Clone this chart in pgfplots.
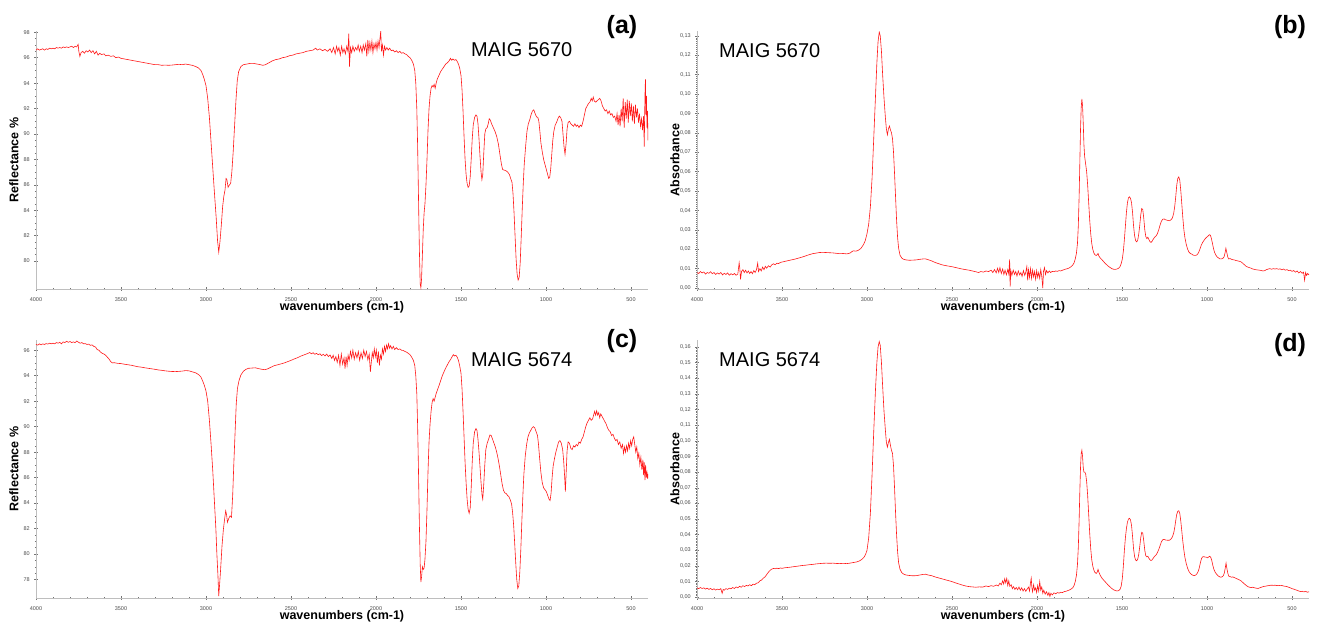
\documentclass[border=0pt]{standalone}
\usepackage{fontspec}
\setmainfont{Liberation Sans}
\usepackage{pgfplots}
\pgfplotsset{compat=1.18}

\definecolor{spec}{RGB}{255,25,25}
\definecolor{axgray}{RGB}{190,190,190}

% 1pt in the picture = 1px of the 1319x625 reference
\pgfplotsset{
  ir/.style={
    scale only axis, width=612pt, height=258pt, anchor=center,
    x dir=reverse, xmin=400, xmax=4000,
    xtick={500,1000,...,4000}, minor x tick num=4,
    axis x line*=bottom, axis y line*=left,
    axis line style={-, draw=axgray, line width=0.8pt},
    tick style={draw=black!55, line width=0.5pt},
    major tick length=3.5pt, minor tick length=2pt, tick align=center,
    tick label style={font=\fontsize{5.5}{6}\selectfont, text=black!70},
    xticklabel style={yshift=-3pt, /pgf/number format/set thousands separator={}},
    yticklabel style={xshift=-1pt},
    /pgf/number format/assume math mode=true,
    label style={font=\bfseries\fontsize{12.5}{14}\selectfont},
    xlabel={wavenumbers (cm-1)},
    xlabel style={at={(axis description cs:0.5,-0.07)}, anchor=center},
    ylabel style={at={(axis description cs:-0.036,0.5)}, anchor=center},
    every axis plot post/.append style={draw=spec, line width=0.6pt, mark=none},
  },
  refl/.style={ir, ylabel={Reflectance \%}, minor y tick num=3},
  absb/.style={ir, ylabel={Absorbance}, minor y tick num=9,
    yticklabel style={/pgf/number format/.cd, fixed, fixed zerofill, precision=2, use comma}},
}

\begin{document}
\begin{tikzpicture}
\path[use as bounding box] (0,0) rectangle (1319pt,-625pt);

% (a) reflectance MAIG 5670
\begin{axis}[refl, at={(342pt,-160pt)}, ymin=77.8, ymax=98.1, ytick={80,82,...,98}]
\addplot coordinates {
(4000,96.6) (3990,96.7) (3980,96.6) (3970,96.65) (3960,96.7) (3950,96.6) (3940,96.7) (3930,96.65) (3920,96.75) (3910,96.7)
(3900,96.75) (3890,96.7) (3880,96.8) (3870,96.75) (3860,96.8) (3850,96.75) (3840,96.85) (3830,96.8) (3820,96.85) (3810,96.8)
(3800,96.85) (3790,96.9) (3780,96.8) (3770,96.9) (3760,96.85) (3752,97.05) (3748,96.5) (3742,96.1) (3735,96.4) (3725,96.5)
(3715,96.35) (3705,96.55) (3695,96.45) (3685,96.6) (3675,96.4) (3665,96.55) (3655,96.3) (3645,96.5) (3635,96.2) (3625,96.35)
(3615,96.25) (3600,96.3) (3590,96.15) (3575,96.2) (3560,96.1) (3545,96.15) (3530,96.0) (3515,96.05) (3500,95.95) (3480,95.9)
(3460,95.85) (3440,95.8) (3420,95.75) (3400,95.7) (3380,95.65) (3360,95.6) (3340,95.55) (3320,95.5) (3300,95.45) (3280,95.45)
(3260,95.4) (3240,95.42) (3220,95.4) (3200,95.42) (3180,95.45) (3160,95.48) (3140,95.45) (3120,95.5) (3100,95.45) (3080,95.4)
(3060,95.3) (3045,95.2) (3030,95.0) (3020,94.7) (3010,94.3) (3000,93.8) (2990,92.8) (2980,91.3) (2970,89.3) (2960,87.3)
(2950,85.3) (2940,83.4) (2932,81.6) (2925,80.7) (2918,81.5) (2910,82.8) (2902,84.3) (2895,85.1) (2888,85.6) (2882,86.5)
(2877,86.4) (2870,85.8) (2862,86.0) (2855,86.1) (2848,87.0) (2840,88.6) (2832,90.6) (2824,92.6) (2816,94.2) (2808,94.9)
(2795,95.3) (2780,95.45) (2760,95.5) (2740,95.55) (2720,95.55) (2700,95.5) (2680,95.45) (2665,95.4) (2650,95.45) (2630,95.6)
(2610,95.75) (2590,95.85) (2570,95.9) (2550,96.0) (2530,96.05) (2510,96.15) (2490,96.2) (2470,96.3) (2450,96.35) (2430,96.4)
(2410,96.5) (2390,96.55) (2370,96.6) (2355,96.75) (2345,96.6) (2330,96.7) (2315,96.55) (2300,96.65) (2285,96.5) (2270,96.7)
(2260,96.4) (2250,96.8) (2240,96.3) (2232,96.9) (2225,96.5) (2218,96.8) (2210,96.2) (2202,96.9) (2195,96.4) (2188,96.7)
(2180,96.3) (2172,96.9) (2165,96.5) (2160,97.9) (2156,95.3) (2150,96.8) (2143,96.4) (2136,96.9) (2128,96.5) (2120,96.8)
(2112,96.6) (2105,97.0) (2098,96.5) (2090,96.9) (2082,96.4) (2075,97.0) (2068,96.6) (2060,97.1) (2054,96.1) (2048,97.4)
(2042,96.5) (2036,97.2) (2030,96.6) (2024,97.3) (2018,96.4) (2012,97.1) (2006,96.7) (2000,97.2) (1994,96.6) (1988,97.3)
(1982,96.8) (1976,97.6) (1972,98.1) (1968,96.5) (1962,97.0) (1956,96.2) (1950,96.9) (1944,96.6) (1936,96.8) (1928,96.6)
(1920,96.75) (1910,96.55) (1900,96.6) (1890,96.45) (1880,96.55) (1870,96.4) (1860,96.5) (1850,96.35) (1840,96.4) (1830,96.3)
(1820,96.25) (1810,96.1) (1800,96.0) (1790,95.8) (1780,95.5) (1772,95.0) (1766,94.0) (1760,92.0) (1755,89.0) (1750,85.0)
(1745,81.0) (1740,78.2) (1736,77.9) (1732,78.6) (1727,80.5) (1722,82.5) (1717,83.8) (1712,84.5) (1706,86.0) (1700,88.0)
(1694,90.3) (1688,92.0) (1682,93.0) (1676,93.6) (1670,93.8) (1664,93.7) (1658,93.9) (1652,93.6) (1646,94.0) (1640,94.3)
(1630,94.6) (1620,94.9) (1610,95.1) (1600,95.3) (1590,95.5) (1580,95.6) (1570,95.75) (1562,95.95) (1555,95.8) (1548,95.9)
(1540,95.8) (1530,95.85) (1522,95.7) (1515,95.5) (1508,95.2) (1500,94.6) (1494,93.5) (1488,91.8) (1482,89.8) (1476,88.0)
(1470,86.8) (1464,86.1) (1458,85.8) (1452,85.9) (1446,86.6) (1440,88.0) (1434,89.6) (1428,90.7) (1420,91.3) (1412,91.5)
(1406,91.4) (1400,90.8) (1394,89.6) (1388,88.2) (1382,87.0) (1377,86.4) (1372,86.8) (1366,88.5) (1360,90.0) (1354,90.4)
(1346,90.5) (1340,90.8) (1334,91.2) (1328,91.1) (1320,90.8) (1310,90.5) (1300,90.2) (1290,89.8) (1280,89.2) (1270,88.3)
(1262,87.6) (1255,87.2) (1245,87.15) (1235,87.1) (1225,87.0) (1215,86.8) (1208,86.5) (1200,86.2) (1194,85.3) (1188,83.8)
(1182,82.0) (1176,80.2) (1170,79.0) (1164,78.5) (1158,78.7) (1152,79.8) (1146,81.8) (1140,84.0) (1134,86.0) (1128,87.6)
(1120,89.0) (1112,90.2) (1104,90.8) (1096,91.1) (1088,91.5) (1080,91.8) (1072,91.9) (1064,91.6) (1056,91.35) (1048,91.3)
(1042,91.0) (1036,90.2) (1030,89.3) (1022,88.6) (1014,88.0) (1006,87.6) (998,87.2) (990,86.8) (984,86.5) (978,86.6)
(972,87.3) (966,88.4) (960,89.5) (954,90.2) (946,90.7) (938,90.9) (930,91.2) (922,91.4) (914,91.3) (906,91.0)
(900,90.0) (894,89.0) (888,88.4) (882,89.2) (876,90.4) (870,90.9) (862,91.0) (854,90.8) (846,90.7) (838,90.6)
(830,90.8) (822,90.6) (814,90.7) (806,90.5) (798,90.7) (790,90.6) (782,91.0) (774,91.5) (766,92.0) (758,92.2)
(750,92.4) (742,92.5) (734,92.8) (728,92.6) (722,92.9) (716,92.6) (708,92.5) (700,92.6) (692,92.7) (684,92.8)
(676,92.6) (668,92.2) (660,92.0) (652,91.8) (644,91.9) (636,91.6) (628,91.8) (620,91.5) (612,91.6) (604,91.3)
(596,91.4) (588,91.0) (582,91.6) (576,90.7) (570,91.5) (564,90.6) (558,92.0) (552,91.0) (546,92.8) (540,90.5)
(534,92.5) (528,91.2) (522,92.7) (516,90.9) (510,92.6) (504,91.4) (498,92.4) (492,91.0) (486,92.2) (480,90.8)
(474,92.3) (468,91.3) (462,92.0) (456,90.9) (450,91.6) (444,90.6) (438,91.2) (432,90.3) (426,91.4) (422,89.0)
(418,93.0) (415,94.3) (412,91.5) (409,93.0) (406,90.5) (403,91.8) (400,89.5)
};
\end{axis}

% (b) absorbance MAIG 5670
\begin{axis}[absb, at={(1003pt,-160pt)}, ymin=-0.0005, ymax=0.1325,
  ytick={0,0.01,0.02,0.03,0.04,0.05,0.06,0.07,0.08,0.09,0.10,0.11,0.12,0.13}]
\addplot coordinates {
(4000,0.0080) (3990,0.0075) (3980,0.0085) (3970,0.0078) (3960,0.0083) (3950,0.0072) (3940,0.0080) (3930,0.0076) (3920,0.0084) (3910,0.0074)
(3900,0.0080) (3890,0.0070) (3880,0.0078) (3870,0.0072) (3860,0.0080) (3850,0.0068) (3840,0.0076) (3830,0.0070) (3820,0.0078) (3810,0.0066)
(3800,0.0074) (3790,0.0068) (3780,0.0075) (3770,0.0066) (3760,0.0072) (3752,0.0130) (3748,0.0100) (3744,0.0045) (3738,0.0085) (3730,0.0095)
(3722,0.0080) (3714,0.0092) (3706,0.0078) (3698,0.0088) (3690,0.0075) (3682,0.0085) (3674,0.0074) (3666,0.0090) (3658,0.0080) (3650,0.0095)
(3643,0.0128) (3638,0.0085) (3630,0.0100) (3622,0.0088) (3614,0.0108) (3606,0.0095) (3598,0.0112) (3590,0.0102) (3580,0.0115) (3570,0.0108)
(3560,0.0120) (3550,0.0125) (3540,0.0120) (3530,0.0128) (3520,0.0126) (3510,0.0132) (3500,0.0134) (3480,0.0138) (3460,0.0142) (3440,0.0146)
(3420,0.0150) (3400,0.0155) (3380,0.0160) (3360,0.0166) (3340,0.0172) (3320,0.0177) (3300,0.0180) (3280,0.0183) (3260,0.0184) (3240,0.0183)
(3220,0.0182) (3200,0.0181) (3180,0.0179) (3160,0.0177) (3140,0.0178) (3120,0.0176) (3100,0.0180) (3090,0.0187) (3080,0.0192) (3065,0.0190)
(3050,0.0195) (3035,0.0205) (3020,0.0225) (3010,0.0245) (3000,0.0280) (2990,0.0330) (2980,0.0420) (2970,0.0570) (2960,0.0780) (2950,0.0990)
(2942,0.1160) (2935,0.1270) (2928,0.1320) (2922,0.1300) (2915,0.1220) (2908,0.1100) (2900,0.0980) (2892,0.0880) (2886,0.0820) (2880,0.0790)
(2874,0.0820) (2868,0.0835) (2862,0.0815) (2856,0.0800) (2850,0.0770) (2844,0.0700) (2838,0.0590) (2832,0.0470) (2826,0.0350) (2820,0.0260)
(2814,0.0205) (2806,0.0170) (2796,0.0155) (2785,0.0148) (2770,0.0145) (2750,0.0143) (2730,0.0144) (2710,0.0145) (2690,0.0148) (2670,0.0150)
(2655,0.0150) (2640,0.0146) (2620,0.0140) (2600,0.0132) (2580,0.0126) (2560,0.0120) (2540,0.0116) (2520,0.0113) (2500,0.0110) (2480,0.0106)
(2460,0.0102) (2440,0.0098) (2420,0.0095) (2400,0.0092) (2380,0.0088) (2360,0.0084) (2345,0.0080) (2330,0.0085) (2315,0.0082) (2300,0.0088)
(2285,0.0085) (2270,0.0092) (2260,0.0080) (2250,0.0095) (2240,0.0078) (2232,0.0102) (2225,0.0080) (2218,0.0105) (2210,0.0075) (2202,0.0098)
(2195,0.0070) (2188,0.0092) (2180,0.0068) (2172,0.0095) (2166,0.0072) (2161,0.0148) (2158,0.0007) (2154,0.0090) (2148,0.0065) (2140,0.0092)
(2132,0.0070) (2125,0.0085) (2118,0.0062) (2110,0.0088) (2102,0.0068) (2095,0.0080) (2088,0.0060) (2080,0.0090) (2072,0.0065) (2066,0.0082)
(2060,0.0110) (2055,0.0040) (2050,0.0095) (2044,0.0055) (2038,0.0100) (2032,0.0050) (2026,0.0092) (2020,0.0058) (2014,0.0085) (2008,0.0045)
(2002,0.0090) (1996,0.0055) (1990,0.0080) (1984,0.0050) (1978,0.0095) (1972,0.0060) (1966,0.0000) (1962,0.0085) (1956,0.0105) (1950,0.0070)
(1944,0.0090) (1936,0.0078) (1928,0.0088) (1920,0.0080) (1910,0.0086) (1900,0.0084) (1890,0.0088) (1880,0.0086) (1870,0.0090) (1860,0.0088)
(1850,0.0092) (1840,0.0095) (1830,0.0098) (1820,0.0100) (1810,0.0104) (1800,0.0110) (1790,0.0118) (1782,0.0130) (1775,0.0150) (1768,0.0180)
(1762,0.0230) (1757,0.0320) (1752,0.0480) (1748,0.0650) (1744,0.0820) (1740,0.0930) (1736,0.0975) (1732,0.0940) (1728,0.0850) (1724,0.0740)
(1720,0.0680) (1714,0.0640) (1708,0.0600) (1702,0.0530) (1696,0.0440) (1690,0.0350) (1684,0.0280) (1678,0.0230) (1672,0.0200) (1666,0.0182)
(1660,0.0172) (1652,0.0168) (1646,0.0172) (1641,0.0178) (1636,0.0165) (1628,0.0155) (1620,0.0148) (1610,0.0138) (1600,0.0128) (1590,0.0120)
(1580,0.0112) (1570,0.0106) (1560,0.0100) (1550,0.0097) (1540,0.0096) (1530,0.0098) (1520,0.0102) (1512,0.0110) (1505,0.0125) (1498,0.0150)
(1492,0.0190) (1486,0.0250) (1480,0.0320) (1474,0.0390) (1468,0.0440) (1462,0.0465) (1456,0.0470) (1450,0.0462) (1444,0.0440) (1438,0.0390)
(1432,0.0320) (1426,0.0270) (1420,0.0245) (1414,0.0238) (1408,0.0245) (1402,0.0275) (1396,0.0320) (1390,0.0375) (1384,0.0410) (1378,0.0405)
(1372,0.0360) (1366,0.0300) (1360,0.0265) (1354,0.0255) (1348,0.0262) (1342,0.0250) (1336,0.0240) (1330,0.0235) (1324,0.0240) (1316,0.0252)
(1308,0.0262) (1300,0.0268) (1292,0.0280) (1284,0.0300) (1276,0.0325) (1268,0.0345) (1260,0.0355) (1252,0.0356) (1244,0.0352) (1236,0.0350)
(1228,0.0348) (1220,0.0347) (1212,0.0352) (1204,0.0360) (1196,0.0385) (1190,0.0420) (1184,0.0470) (1178,0.0530) (1172,0.0565) (1166,0.0573)
(1160,0.0555) (1154,0.0500) (1148,0.0430) (1142,0.0360) (1136,0.0300) (1130,0.0260) (1122,0.0225) (1114,0.0200) (1106,0.0185) (1098,0.0178)
(1090,0.0175) (1082,0.0170) (1074,0.0168) (1066,0.0168) (1058,0.0172) (1050,0.0182) (1042,0.0200) (1034,0.0220) (1026,0.0235) (1018,0.0245)
(1010,0.0255) (1002,0.0262) (994,0.0268) (986,0.0275) (980,0.0272) (974,0.0255) (968,0.0230) (962,0.0205) (956,0.0185) (948,0.0170)
(940,0.0160) (932,0.0155) (924,0.0150) (916,0.0150) (908,0.0152) (900,0.0160) (894,0.0180) (889,0.0205) (884,0.0185) (878,0.0160)
(872,0.0150) (864,0.0152) (856,0.0148) (848,0.0146) (840,0.0145) (830,0.0142) (820,0.0140) (810,0.0138) (800,0.0135) (790,0.0128)
(780,0.0120) (770,0.0112) (760,0.0108) (750,0.0105) (740,0.0102) (730,0.0098) (720,0.0096) (710,0.0094) (700,0.0093) (690,0.0092)
(680,0.0090) (670,0.0088) (660,0.0090) (650,0.0095) (640,0.0098) (630,0.0100) (620,0.0097) (610,0.0100) (600,0.0098) (590,0.0100)
(580,0.0097) (570,0.0099) (560,0.0094) (550,0.0098) (540,0.0092) (530,0.0095) (520,0.0090) (510,0.0092) (500,0.0086) (490,0.0090)
(480,0.0082) (470,0.0088) (460,0.0078) (450,0.0085) (440,0.0076) (432,0.0082) (426,0.0040) (420,0.0080) (414,0.0065) (408,0.0075)
(400,0.0068)
};
\end{axis}

% (c) reflectance MAIG 5674
\begin{axis}[refl, at={(342pt,-469pt)}, ymin=76.55, ymax=96.8, ytick={78,80,...,96}]
\addplot coordinates {
(4000,96.45) (3990,96.4) (3980,96.5) (3970,96.42) (3960,96.5) (3950,96.45) (3940,96.52) (3930,96.48) (3920,96.55) (3910,96.5)
(3900,96.55) (3890,96.5) (3880,96.6) (3870,96.55) (3860,96.62) (3850,96.5) (3840,96.65) (3830,96.6) (3820,96.7) (3810,96.62)
(3800,96.68) (3790,96.6) (3780,96.65) (3770,96.6) (3760,96.72) (3750,96.62) (3740,96.55) (3730,96.6) (3720,96.5) (3710,96.52)
(3700,96.45) (3690,96.48) (3680,96.38) (3670,96.42) (3660,96.3) (3650,96.25) (3640,96.05) (3630,96.0) (3620,95.85) (3610,95.75)
(3600,95.7) (3590,95.6) (3580,95.45) (3570,95.3) (3560,95.1) (3550,95.0) (3540,95.02) (3520,94.97) (3500,94.95) (3480,94.9)
(3460,94.86) (3440,94.82) (3420,94.76) (3400,94.7) (3380,94.67) (3360,94.62) (3340,94.58) (3320,94.54) (3300,94.5) (3280,94.45)
(3260,94.42) (3240,94.38) (3220,94.35) (3200,94.33) (3180,94.32) (3160,94.34) (3140,94.36) (3120,94.4) (3100,94.38) (3080,94.3)
(3060,94.22) (3045,94.1) (3030,93.9) (3020,93.6) (3010,93.25) (3000,92.8) (2990,92.0) (2980,90.5) (2970,88.6) (2960,86.5)
(2950,84.0) (2942,82.0) (2936,80.0) (2930,78.4) (2925,76.7) (2920,77.6) (2914,78.8) (2906,80.6) (2898,81.9) (2890,82.8)
(2884,83.4) (2879,83.1) (2874,82.5) (2866,82.8) (2858,83.0) (2850,82.9) (2843,84.6) (2836,87.2) (2829,89.5) (2822,91.8)
(2815,93.0) (2806,93.6) (2795,94.05) (2780,94.35) (2765,94.5) (2750,94.58) (2730,94.6) (2710,94.62) (2690,94.55) (2670,94.5)
(2655,94.47) (2640,94.52) (2620,94.65) (2600,94.78) (2580,94.85) (2560,94.92) (2540,95.0) (2520,95.1) (2500,95.2) (2480,95.32)
(2460,95.42) (2440,95.55) (2420,95.65) (2400,95.75) (2390,95.82) (2380,95.72) (2370,95.8) (2360,95.68) (2350,95.75) (2340,95.65)
(2330,95.72) (2320,95.58) (2310,95.68) (2300,95.55) (2290,95.7) (2280,95.5) (2270,95.62) (2260,95.35) (2252,95.6) (2244,95.2)
(2236,95.5) (2228,95.05) (2220,95.6) (2212,94.8) (2204,95.7) (2196,94.9) (2188,95.4) (2182,94.55) (2176,95.5) (2170,94.8)
(2164,95.6) (2158,95.2) (2150,95.9) (2143,95.4) (2136,96.0) (2128,95.3) (2120,95.8) (2112,95.4) (2104,95.9) (2096,95.2)
(2088,95.8) (2080,95.35) (2072,96.0) (2064,95.5) (2056,95.9) (2048,95.25) (2040,95.7) (2033,94.3) (2028,95.0) (2022,95.8)
(2016,95.4) (2010,96.1) (2004,95.5) (1998,96.0) (1992,95.0) (1986,95.9) (1980,94.8) (1974,95.6) (1968,95.3) (1962,96.1)
(1956,95.7) (1950,96.3) (1944,95.9) (1938,96.4) (1932,96.1) (1926,96.5) (1920,96.15) (1914,96.35) (1906,96.1) (1898,96.3)
(1890,96.05) (1880,96.2) (1870,96.05) (1860,96.1) (1850,96.0) (1840,95.98) (1830,95.9) (1820,95.85) (1810,95.75) (1800,95.65)
(1790,95.45) (1780,95.2) (1772,94.8) (1766,94.0) (1760,92.6) (1755,90.0) (1750,86.5) (1745,82.5) (1740,79.2) (1736,77.8)
(1732,78.2) (1727,79.0) (1722,78.8) (1717,78.9) (1712,79.6) (1706,81.0) (1700,83.5) (1694,86.5) (1688,88.8) (1682,90.2)
(1676,91.2) (1670,91.9) (1664,92.2) (1658,92.0) (1652,92.3) (1646,92.6) (1638,92.9) (1630,93.2) (1620,93.6) (1610,94.0)
(1600,94.3) (1590,94.6) (1580,94.85) (1570,95.1) (1560,95.3) (1552,95.5) (1545,95.65) (1538,95.55) (1530,95.6) (1522,95.45)
(1515,95.2) (1508,94.8) (1500,94.2) (1494,93.0) (1488,91.2) (1482,89.2) (1476,87.2) (1470,85.6) (1464,84.3) (1458,83.5)
(1452,83.2) (1446,83.6) (1440,85.2) (1434,87.2) (1428,88.7) (1420,89.6) (1412,89.85) (1406,89.7) (1400,89.0) (1394,88.0)
(1388,86.8) (1382,85.6) (1376,84.6) (1372,84.3) (1366,85.5) (1360,87.0) (1354,88.2) (1346,88.7) (1338,89.0) (1330,89.35)
(1322,89.3) (1314,89.0) (1306,88.7) (1298,88.4) (1290,88.0) (1282,87.5) (1274,86.9) (1266,86.2) (1258,85.5) (1250,85.0)
(1242,84.8) (1234,84.75) (1226,84.6) (1218,84.5) (1210,84.25) (1202,83.9) (1196,83.2) (1190,82.2) (1184,80.8) (1178,79.3)
(1172,78.0) (1166,77.3) (1160,77.5) (1154,78.6) (1148,80.4) (1142,82.6) (1136,84.6) (1130,86.3) (1122,87.7) (1114,88.6)
(1106,89.2) (1098,89.5) (1090,89.7) (1082,89.9) (1074,90.0) (1066,89.9) (1058,89.6) (1050,89.3) (1044,88.6) (1038,87.6)
(1030,86.4) (1022,85.6) (1014,85.2) (1006,85.05) (998,84.9) (990,84.6) (982,84.3) (976,84.2) (970,84.8) (964,86.0)
(958,86.9) (950,87.5) (942,88.0) (934,88.4) (926,88.8) (918,88.9) (910,88.7) (902,88.2) (896,87.3) (890,86.0)
(886,84.9) (881,86.5) (876,88.1) (870,88.8) (862,88.7) (854,88.3) (846,88.2) (838,88.5) (830,88.4) (822,88.6)
(814,88.5) (806,88.8) (798,88.7) (790,89.0) (782,89.2) (774,89.6) (766,90.0) (758,90.3) (750,90.5) (742,90.7)
(734,90.5) (726,90.6) (720,90.9) (714,91.2) (708,90.9) (702,91.25) (696,90.9) (690,91.1) (684,90.7) (678,91.0)
(670,90.8) (662,90.6) (654,90.4) (646,90.2) (638,89.9) (630,89.7) (622,89.6) (614,89.3) (606,89.4) (598,89.1)
(590,88.9) (582,89.0) (574,88.6) (566,88.8) (558,88.3) (550,88.6) (544,87.9) (538,88.4) (532,88.0) (526,88.5)
(520,88.1) (514,88.7) (508,88.3) (502,88.9) (496,88.5) (490,89.0) (484,89.2) (478,88.6) (472,88.0) (466,88.4)
(460,87.5) (454,87.9) (448,87.0) (442,87.6) (436,86.6) (430,87.4) (426,86.2) (422,87.2) (418,85.8) (414,87.0)
(410,86.0) (406,86.4) (402,85.9) (400,86.3)
};
\end{axis}

% (d) absorbance MAIG 5674
\begin{axis}[absb, at={(1003pt,-469pt)}, ymin=-0.0005, ymax=0.1645,
  ytick={0,0.01,0.02,0.03,0.04,0.05,0.06,0.07,0.08,0.09,0.10,0.11,0.12,0.13,0.14,0.15,0.16}]
\addplot coordinates {
(4000,0.0060) (3990,0.0055) (3980,0.0062) (3970,0.0056) (3960,0.0060) (3950,0.0052) (3940,0.0058) (3930,0.0050) (3920,0.0056) (3910,0.0048)
(3900,0.0054) (3890,0.0046) (3880,0.0052) (3870,0.0048) (3860,0.0055) (3852,0.0025) (3846,0.0050) (3840,0.0045) (3830,0.0055) (3820,0.0050)
(3810,0.0058) (3800,0.0054) (3790,0.0062) (3780,0.0056) (3770,0.0066) (3760,0.0060) (3750,0.0070) (3740,0.0064) (3730,0.0074) (3720,0.0068)
(3710,0.0076) (3700,0.0072) (3690,0.0080) (3680,0.0074) (3670,0.0084) (3660,0.0080) (3650,0.0090) (3640,0.0092) (3630,0.0105) (3620,0.0110)
(3610,0.0122) (3600,0.0130) (3590,0.0145) (3580,0.0160) (3570,0.0172) (3560,0.0180) (3550,0.0184) (3540,0.0182) (3530,0.0186) (3520,0.0183)
(3510,0.0187) (3500,0.0185) (3480,0.0189) (3460,0.0191) (3440,0.0194) (3420,0.0197) (3400,0.0200) (3380,0.0203) (3360,0.0205) (3340,0.0208)
(3320,0.0210) (3300,0.0213) (3280,0.0215) (3260,0.0217) (3240,0.0218) (3220,0.0217) (3200,0.0218) (3180,0.0216) (3160,0.0215) (3140,0.0217)
(3120,0.0215) (3100,0.0218) (3080,0.0222) (3060,0.0226) (3045,0.0232) (3030,0.0242) (3018,0.0255) (3008,0.0275) (3000,0.0300) (2990,0.0380)
(2980,0.0540) (2970,0.0790) (2960,0.1070) (2950,0.1330) (2942,0.1500) (2935,0.1600) (2928,0.1635) (2922,0.1610) (2915,0.1500) (2908,0.1350)
(2900,0.1190) (2892,0.1070) (2886,0.0990) (2880,0.0960) (2874,0.0990) (2868,0.1010) (2862,0.0970) (2856,0.0940) (2850,0.0920) (2844,0.0840)
(2838,0.0700) (2832,0.0540) (2826,0.0400) (2820,0.0290) (2814,0.0220) (2806,0.0180) (2796,0.0158) (2785,0.0148) (2770,0.0142) (2750,0.0139)
(2730,0.0137) (2710,0.0138) (2690,0.0142) (2670,0.0146) (2655,0.0147) (2640,0.0142) (2620,0.0138) (2600,0.0130) (2580,0.0124) (2560,0.0118)
(2540,0.0112) (2520,0.0106) (2500,0.0100) (2480,0.0092) (2460,0.0085) (2440,0.0078) (2420,0.0072) (2400,0.0068) (2380,0.0066) (2360,0.0064)
(2340,0.0066) (2320,0.0065) (2300,0.0072) (2285,0.0068) (2270,0.0074) (2255,0.0070) (2240,0.0078) (2228,0.0072) (2218,0.0090) (2210,0.0080)
(2202,0.0105) (2196,0.0085) (2190,0.0118) (2184,0.0092) (2178,0.0120) (2172,0.0075) (2166,0.0105) (2160,0.0070) (2152,0.0080) (2145,0.0055)
(2138,0.0068) (2130,0.0050) (2122,0.0062) (2114,0.0048) (2106,0.0065) (2098,0.0045) (2090,0.0060) (2082,0.0040) (2074,0.0055) (2066,0.0038)
(2058,0.0052) (2050,0.0065) (2044,0.0040) (2038,0.0095) (2034,0.0122) (2030,0.0060) (2026,0.0035) (2020,0.0080) (2014,0.0045) (2008,0.0060)
(2002,0.0030) (1996,0.0075) (1990,0.0040) (1984,0.0100) (1978,0.0045) (1972,0.0065) (1966,0.0025) (1960,0.0045) (1952,0.0020) (1944,0.0035)
(1936,0.0012) (1930,0.0030) (1924,0.0005) (1918,0.0025) (1910,0.0015) (1900,0.0028) (1890,0.0022) (1880,0.0030) (1870,0.0026) (1860,0.0032)
(1850,0.0030) (1840,0.0036) (1830,0.0038) (1820,0.0042) (1810,0.0046) (1800,0.0052) (1790,0.0060) (1782,0.0075) (1775,0.0100) (1768,0.0140)
(1762,0.0210) (1757,0.0320) (1752,0.0500) (1748,0.0680) (1744,0.0830) (1740,0.0920) (1736,0.0940) (1732,0.0900) (1728,0.0830) (1724,0.0800)
(1719,0.0800) (1714,0.0790) (1708,0.0740) (1702,0.0650) (1696,0.0530) (1690,0.0410) (1684,0.0310) (1678,0.0240) (1672,0.0200) (1666,0.0175)
(1660,0.0160) (1652,0.0152) (1646,0.0160) (1641,0.0178) (1636,0.0160) (1628,0.0140) (1620,0.0125) (1610,0.0112) (1600,0.0100) (1590,0.0088)
(1580,0.0076) (1570,0.0066) (1560,0.0056) (1550,0.0048) (1540,0.0043) (1530,0.0040) (1520,0.0042) (1512,0.0050) (1505,0.0070) (1498,0.0120)
(1492,0.0200) (1486,0.0300) (1480,0.0380) (1474,0.0440) (1468,0.0480) (1462,0.0500) (1456,0.0505) (1450,0.0495) (1444,0.0460) (1438,0.0390)
(1432,0.0310) (1426,0.0260) (1420,0.0238) (1414,0.0233) (1408,0.0242) (1402,0.0270) (1396,0.0320) (1390,0.0380) (1384,0.0415) (1378,0.0410)
(1372,0.0360) (1366,0.0300) (1360,0.0265) (1354,0.0258) (1348,0.0262) (1342,0.0250) (1336,0.0240) (1330,0.0235) (1324,0.0238) (1316,0.0250)
(1308,0.0262) (1300,0.0270) (1292,0.0285) (1284,0.0305) (1276,0.0330) (1268,0.0355) (1260,0.0368) (1252,0.0370) (1244,0.0366) (1236,0.0365)
(1228,0.0364) (1220,0.0365) (1212,0.0372) (1204,0.0385) (1196,0.0410) (1190,0.0445) (1184,0.0490) (1178,0.0530) (1172,0.0550) (1166,0.0553)
(1160,0.0535) (1154,0.0485) (1148,0.0420) (1142,0.0355) (1136,0.0300) (1130,0.0255) (1122,0.0215) (1114,0.0185) (1106,0.0165) (1098,0.0152)
(1090,0.0145) (1082,0.0140) (1074,0.0138) (1066,0.0142) (1058,0.0152) (1050,0.0170) (1044,0.0195) (1038,0.0225) (1032,0.0248) (1026,0.0258)
(1020,0.0260) (1012,0.0257) (1004,0.0256) (996,0.0252) (990,0.0258) (984,0.0262) (978,0.0255) (972,0.0235) (966,0.0205) (960,0.0180)
(952,0.0160) (944,0.0148) (936,0.0138) (928,0.0132) (920,0.0128) (912,0.0130) (904,0.0138) (898,0.0155) (893,0.0185) (888,0.0218)
(884,0.0190) (878,0.0155) (872,0.0135) (864,0.0132) (856,0.0128) (848,0.0130) (840,0.0126) (832,0.0122) (824,0.0118) (816,0.0114)
(808,0.0110) (800,0.0105) (790,0.0095) (780,0.0085) (770,0.0076) (760,0.0068) (750,0.0064) (740,0.0062) (730,0.0064) (720,0.0060)
(710,0.0058) (700,0.0056) (690,0.0060) (680,0.0064) (670,0.0068) (660,0.0070) (650,0.0072) (640,0.0074) (630,0.0076) (620,0.0077)
(610,0.0076) (600,0.0077) (590,0.0075) (580,0.0076) (570,0.0074) (560,0.0075) (550,0.0072) (540,0.0070) (530,0.0068) (520,0.0064)
(510,0.0060) (500,0.0055) (490,0.0052) (480,0.0048) (470,0.0044) (460,0.0040) (450,0.0036) (440,0.0038) (430,0.0034) (420,0.0038)
(410,0.0032) (400,0.0035)
};
\end{axis}

% sample names and panel letters
\begin{scope}[every node/.style={inner sep=0pt}]
\node[anchor=west, font=\fontsize{20}{22}\selectfont] at (471pt,-50pt) {MAIG 5670};
\node[anchor=west, font=\fontsize{20}{22}\selectfont] at (719pt,-51pt) {MAIG 5670};
\node[anchor=west, font=\fontsize{20}{22}\selectfont] at (471pt,-360pt) {MAIG 5674};
\node[anchor=west, font=\fontsize{20}{22}\selectfont] at (719pt,-360pt) {MAIG 5674};
\node[font=\bfseries\fontsize{25}{27}\selectfont] at (622pt,-27pt) {(a)};
\node[font=\bfseries\fontsize{25}{27}\selectfont] at (1290pt,-27pt) {(b)};
\node[font=\bfseries\fontsize{25}{27}\selectfont] at (622pt,-341pt) {(c)};
\node[font=\bfseries\fontsize{25}{27}\selectfont] at (1290pt,-345pt) {(d)};
\end{scope}
\end{tikzpicture}
\end{document}
